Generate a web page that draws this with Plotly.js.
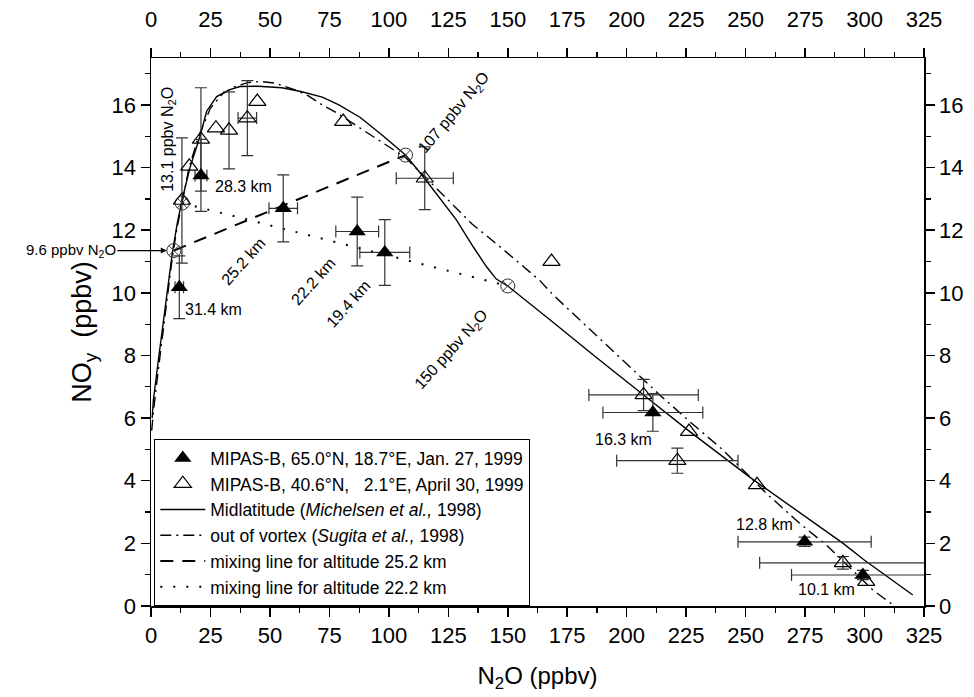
<!DOCTYPE html>
<html>
<head>
<meta charset="utf-8">
<script src="https://cdn.plot.ly/plotly-3.0.1.min.js"></script>
<style>html,body{margin:0;padding:0;background:#fff;}#chart{width:974px;height:697px;}</style>
</head>
<body>
<div id="chart"></div>
<script>
// MIPAS-B, 65.0N, 18.7E, Jan. 27, 1999 (filled triangles)
const janN2O  = [11.9, 21.0, 55.6, 86.7, 98.3, 211.0, 274.8, 299.3];
const janNOy  = [10.18, 13.75, 12.7, 11.96, 11.29, 6.18, 2.05, 0.99];
const janNOyErr = [1.0, 1.15, 1.07, 1.1, 1.05, 0.6, 0.15, 0.15];
const janN2OErr = [1.8, 2.5, 6.0, 9.0, 10.5, 21.0, 28.0, 30.0];
const janAlt = ['31.4 km', '28.3 km', '25.2 km', '22.2 km', '19.4 km', '16.3 km', '12.8 km', '10.1 km'];

// MIPAS-B, 40.6N, 2.1E, April 30, 1999 (open triangles)
const aprN2O  = [13.0, 16.1, 21.0, 27.3, 32.8, 40.5, 44.7, 80.8, 115.1, 168.4, 207.1, 221.3, 226.2, 254.8, 290.9, 300.7];
const aprNOy  = [12.95, 14.04, 14.9, 15.26, 15.19, 15.58, 16.11, 15.47, 13.66, 11.0, 6.74, 4.64, 5.57, 3.87, 1.38, 0.78];
const aprNOyErr = [2.0, NaN, 1.65, NaN, 1.23, 1.2, NaN, NaN, 1.0, NaN, 0.5, 0.4, NaN, NaN, 0.2, NaN];
const aprN2OErr = [NaN, NaN, NaN, NaN, NaN, 3.9, NaN, NaN, 12.0, NaN, 23.0, 25.5, NaN, NaN, 35.0, NaN];

// Midlatitude (Michelsen et al., 1998)
const midN2O = [0.5, 1, 3, 5, 7, 9, 11, 13, 16.4, 20.6, 23.4, 27.6, 33.2, 37.4, 45, 55, 63, 72, 79, 88, 97, 107, 115, 121, 128.4, 135.4, 141, 145.2, 150, 167.6, 187, 207.1, 226, 252, 275, 291, 300, 320.3];
const midNOy = [6.0, 6.58, 7.8, 8.95, 10.1, 11.3, 12.2, 12.95, 14.0, 15.0, 15.8, 16.27, 16.49, 16.59, 16.6, 16.55, 16.43, 16.25, 16.0, 15.6, 15.05, 14.4, 13.66, 13.05, 12.33, 11.48, 10.84, 10.44, 10.22, 9.15, 7.95, 6.74, 5.6, 4.1, 2.85, 2.0, 1.46, 0.35];

// out of vortex (Sugita et al., 1998)
const sugN2O = [0.3, 1, 3, 5, 7, 9, 11, 13, 16, 20, 25, 30, 35, 41, 46, 52, 60, 66, 72, 78, 83.6, 93, 103.2, 107, 115, 125, 135, 146.6, 155, 163.4, 169, 185, 200.5, 213.9, 226.5, 240.5, 258.7, 272.7, 283.9, 295, 303.5, 312.6];
const sugNOy = [5.6, 6.2, 7.5, 8.7, 9.9, 11.15, 12.1, 12.85, 14.0, 15.0, 15.9, 16.35, 16.58, 16.72, 16.75, 16.7, 16.5, 16.3, 16.0, 15.75, 15.47, 15.0, 14.5, 14.32, 13.72, 12.95, 12.2, 11.48, 10.95, 10.4, 9.94, 8.8, 7.7, 6.74, 5.89, 4.98, 3.6, 2.64, 1.95, 1.15, 0.51, 0.0];

// mixing lines
const mix25N2O = [9.6, 107];
const mix25NOy = [11.35, 14.4];
const mix22N2O = [13.1, 150];
const mix22NOy = [12.87, 10.22];

// reference points (end members of mixing lines)
const endN2O = [9.6, 13.1, 107, 150];
const endNOy = [11.35, 12.87, 14.4, 10.22];

const xTicks = [0, 25, 50, 75, 100, 125, 150, 175, 200, 225, 250, 275, 300, 325];
const yTicks = [0, 2, 4, 6, 8, 10, 12, 14, 16];

const FONT = 'Liberation Sans, Arial, Helvetica, sans-serif';
const errStyle = {type: 'data', symmetric: true, color: '#333', thickness: 1.2, width: 6};

const traces = [
  {x: midN2O, y: midNOy, mode: 'lines', name: 'Midlatitude (<i>Michelsen et al.,</i> 1998)',
   line: {color: '#000', width: 1.4}, legendrank: 3},
  {x: sugN2O, y: sugNOy, mode: 'lines', name: 'out of vortex (<i>Sugita et al.,</i> 1998)',
   line: {color: '#000', width: 1.4, dash: '11px,5px,2px,5px'}, legendrank: 4},
  {x: mix25N2O, y: mix25NOy, mode: 'lines', name: 'mixing line for altitude 25.2 km',
   line: {color: '#000', width: 2, dash: '13px,9px'}, legendrank: 5},
  {x: mix22N2O, y: mix22NOy, mode: 'lines', name: 'mixing line for altitude 22.2 km',
   line: {color: '#000', width: 2, dash: '2px,11px'}, legendrank: 6},
  {x: endN2O, y: endNOy, mode: 'markers', showlegend: false,
   marker: {symbol: 'circle-x-open', size: 14, color: '#333', line: {width: 1}}},
  {x: aprN2O, y: aprNOy, mode: 'markers', name: 'MIPAS-B, 40.6°N,\u00a0\u00a0\u00a02.1°E, April 30, 1999',
   marker: {symbol: 'triangle-up-open', size: 15, color: '#000', line: {width: 1.2}},
   error_y: Object.assign({array: aprNOyErr}, errStyle),
   error_x: Object.assign({array: aprN2OErr}, errStyle), legendrank: 2},
  {x: janN2O, y: janNOy, mode: 'markers', name: 'MIPAS-B, 65.0°N, 18.7°E, Jan. 27, 1999',
   marker: {symbol: 'triangle-up', size: 15, color: '#000'},
   error_y: Object.assign({array: janNOyErr}, errStyle),
   error_x: Object.assign({array: janN2OErr}, errStyle), legendrank: 1},
  {x: [null], y: [null], xaxis: 'x2', yaxis: 'y2', showlegend: false, hoverinfo: 'skip', mode: 'markers'}
];

function axisBase(range, ticks, minorStep) {
  return {
    range: range, tickmode: 'array', tickvals: ticks, ticks: 'outside', ticklen: 9, tickwidth: 1.5,
    tickcolor: '#000', showline: true, linewidth: 1.5, linecolor: '#000', showgrid: false, zeroline: false,
    tickfont: {family: FONT, size: 22, color: '#000'},
    minor: {dtick: minorStep, tick0: 0, ticks: 'outside', ticklen: 5, tickwidth: 1.2, tickcolor: '#000', showgrid: false}
  };
}

const xaxis = Object.assign(axisBase([0, 325], xTicks, 12.5), {
  title: {text: 'N<sub>2</sub>O (ppbv)', font: {family: FONT, size: 24, color: '#000'}, standoff: 20}
});
const yaxis = Object.assign(axisBase([0, 17.5], yTicks, 1), {
  title: {text: 'NO<sub>y</sub>  (ppbv)', font: {family: FONT, size: 27, color: '#000'}, standoff: 12}
});
const xaxis2 = Object.assign(axisBase([0, 325], xTicks, 12.5), {overlaying: 'x', side: 'top', anchor: 'y', ticklabelstandoff: 12});
const yaxis2 = Object.assign(axisBase([0, 17.5], yTicks, 1), {overlaying: 'y', side: 'right', anchor: 'x'});

function lab(text, x, y, angle, size) {
  return {x: x, y: y, xref: 'x', yref: 'y', text: text, showarrow: false, textangle: angle || 0,
          font: {family: FONT, size: size || 16, color: '#000'}};
}

const annotations = [
  lab(janAlt[0], 26.2, 9.46, 0),
  lab(janAlt[1], 38.8, 13.4, 0),
  lab(janAlt[2], 38.8, 11.0, -48),
  lab(janAlt[3], 68.2, 10.36, -48),
  lab(janAlt[4], 83.2, 9.65, -48),
  lab(janAlt[5], 198.5, 5.33, 0),
  lab(janAlt[6], 258, 2.59, 0),
  lab(janAlt[7], 283.9, 0.53, 0),
  lab('13.1 ppbv N<sub>2</sub>O', 7.3, 14.9, -90),
  lab('107 ppbv N<sub>2</sub>O', 127.7, 15.75, -50),
  lab('150 ppbv N<sub>2</sub>O', 126.5, 8.2, -48),
  {x: 9.6, y: 11.35, xref: 'x', yref: 'y', text: '9.6 ppbv N<sub>2</sub>O', showarrow: true,
   ax: -103, ay: 0, arrowhead: 2, arrowsize: 1, arrowwidth: 1.2, arrowcolor: '#000', standoff: 7,
   font: {family: FONT, size: 15, color: '#000'}}
];

const layout = {
  width: 974, height: 697,
  margin: {l: 151, r: 50, t: 58, b: 91},
  paper_bgcolor: '#fff', plot_bgcolor: '#fff',
  font: {family: FONT, color: '#000'},
  xaxis: xaxis, yaxis: yaxis, xaxis2: xaxis2, yaxis2: yaxis2,
  showlegend: true,
  legend: {x: 0.004, y: 0.305, xanchor: 'left', yanchor: 'top', bgcolor: '#fff', bordercolor: '#000',
           borderwidth: 1.2, font: {family: FONT, size: 17.5, color: '#000'}, itemwidth: 45, tracegroupgap: 0},
  annotations: annotations
};

Plotly.newPlot('chart', traces, layout, {displayModeBar: false, staticPlot: true});
</script>
</body>
</html>
